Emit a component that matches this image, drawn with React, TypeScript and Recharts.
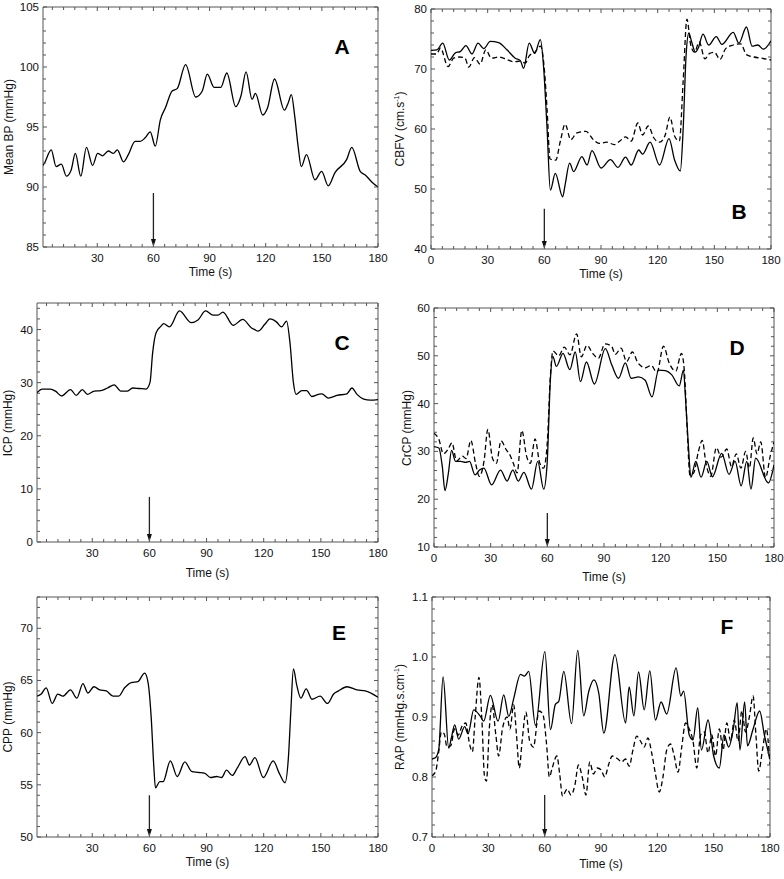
import React from "react";
import { LineChart, Line, XAxis, YAxis, ReferenceArea, ReferenceLine } from "recharts";

const FONT = '"Liberation Sans", Arial, Helvetica, sans-serif';
const FRAME = "#555";
const INK = "#111";

// ---- data (time in s) ----
const aT = [1, 1.8, 5.4, 8, 10.8, 13.5, 16, 18.3, 21.2, 24.2,
  27.5, 30.2, 32.8, 35.9, 38.6, 40.7, 44, 46.6, 50.2, 52.9,
  55.6, 58.3, 61, 63.7, 66.4, 70, 72.7, 77.2, 82.6, 86.1,
  88.8, 92.4, 96, 99.2, 104, 106.8, 109.5, 112.7, 114.5, 118.4,
  121, 124.7, 130, 132, 133.7, 135.5, 137.3, 139, 141.8, 146.3,
  149.9, 153.4, 157, 163.3, 166, 170.5, 173.2, 176.8, 180];
const aMeanBP = [91.8, 92.0, 93.1, 91.7, 91.9, 90.9, 91.4, 92.8, 90.9, 93.3,
  91.8, 92.8, 92.6, 93.0, 92.8, 93.1, 92.1, 92.7, 93.8, 93.8,
  94.1, 94.6, 93.4, 95.6, 96.6, 98.0, 98.2, 100.2, 97.5, 98.0,
  99.4, 98.3, 98.3, 99.5, 96.7, 97.6, 99.6, 97.3, 97.8, 96.0,
  96.6, 99.0, 96.4, 97.0, 97.7, 95.9, 93.4, 91.7, 92.7, 90.6,
  91.3, 90.1, 91.2, 92.3, 93.3, 91.3, 91.0, 90.4, 90.0];

const bSolidT = [0, 3.2, 6.2, 9.7, 12.9, 15.5, 18.5, 21.7, 24.9, 27.9,
  31.4, 35.8, 40.2, 44.6, 47.3, 49, 52, 54.9, 57.9, 59.6,
  61.4, 63.2, 65.8, 69.7, 71, 73.4, 75.5, 79.9, 82.6, 85.2,
  90, 95, 99, 103, 106, 110, 112, 116, 121, 126,
  129, 132, 133.5, 135, 136.5, 138, 140, 141.5, 144, 147,
  151, 154, 160, 163, 167, 170, 173, 176, 180];
const bSolidV = [73.1, 73.2, 74.3, 71.5, 72.7, 72.9, 73.9, 72.5, 74.3, 73.4,
  74.6, 74.4, 73.2, 71.8, 71.4, 70.1, 74.3, 72.6, 74.9, 70.4,
  60.4, 49.8, 52.6, 48.7, 50.7, 54.3, 52.9, 55.4, 54.0, 56.4,
  53.5, 54.9, 53.6, 55.3, 54.0, 56.5, 55.8, 57.8, 54.0, 58.4,
  54.8, 53.0, 60, 72, 76, 74.5, 72.8, 73.5, 75.8, 74.0,
  75.4, 74.1, 76.1, 74.3, 77.0, 73.8, 74.0, 73.3, 74.7];
const bDashT = [0, 3, 5, 9, 12, 15, 18, 20, 23, 26,
  29, 32, 36, 40, 44, 47, 50, 52, 55, 58,
  60, 61.5, 63, 66, 68.5, 71, 74, 77, 82, 86,
  89, 93, 97, 100, 103, 106, 109.5, 112, 115, 118,
  121, 124, 126.5, 129, 131.5, 133.5, 135.5, 137.5, 139.5, 142,
  145, 147.5, 150, 153, 156, 160, 164, 167, 171, 175,
  180];
const bDashV = [72.5, 72.5, 73.5, 70.4, 71.8, 72.0, 71.8, 70.3, 71.9, 70.8,
  73.2, 71.8, 72.0, 71.6, 71.2, 71.3, 71.0, 72.2, 72.8, 73.8,
  70, 63, 55, 54.8, 58, 60.8, 58.2, 59.3, 59.6, 58.2,
  57.6, 57.8, 57.4, 58.0, 58.7, 58.0, 61.0, 59.0, 60.5, 58.5,
  57.8, 59.0, 62.0, 58.8, 58.0, 68, 78.3, 74.0, 72.8, 74.5,
  71.7, 72.6, 72.8, 71.6, 73.4, 74.0, 74.2, 72.4, 72.0, 71.8,
  71.5];

const cT = [1, 3.7, 8, 10.7, 13.9, 18.6, 21.6, 24.8, 27.4, 31,
  34.5, 38, 41.5, 45, 48.5, 51.2, 54.7, 58.2, 60.3, 61.7,
  63.5, 66, 67.5, 70.5, 75.8, 82, 85.5, 89.5, 93.4, 96,
  98.6, 104, 109, 113.6, 115.3, 117, 120.6, 123.3, 126.8, 129.4,
  132, 133.8, 135.6, 137, 140, 142.6, 145.2, 148.8, 150.5, 154,
  158.4, 163.7, 166.3, 169, 172.5, 176, 180];
const cICP = [28.1, 28.8, 28.8, 28.4, 27.5, 28.7, 27.6, 28.7, 27.8, 28.4,
  28.5, 29.0, 29.6, 28.4, 28.4, 29.0, 28.9, 28.8, 30, 35.6,
  39.4, 40.6, 41.1, 40.5, 43.5, 41.3, 41.8, 43.5, 42.7, 42.7,
  43.3, 40.8, 41.9, 40.3, 40.0, 39.7, 41.0, 42.0, 41.4, 40.5,
  41.6, 37.5, 30, 27.8, 28.5, 28.5, 27.4, 27.8, 27.9, 27.1,
  27.6, 27.9, 29.0, 27.8, 26.9, 26.7, 26.8];

const dSolidT = [0, 2.6, 4.4, 5.8, 7.6, 9.3, 11.4, 14.1, 16.7, 18.8,
  21.7, 24.1, 26.4, 30.5, 35.2, 38.7, 41.7, 44.6, 47.6, 51.6,
  54.9, 58.1, 59.9, 61.6, 62.9, 64.8, 68.3, 71.9, 74.8, 77.5,
  80.7, 84.9, 90.7, 94.2, 97.7, 101.3, 104.4, 108.3, 111.8, 115.4,
  118.9, 122.4, 125.9, 129.8, 132.1, 133, 134.7, 136, 138.6, 141.4,
  144.4, 147.4, 152.3, 156.2, 159.4, 162.6, 165.6, 167.8, 170.3, 177,
  180];
const dSolidV = [31.0, 30.7, 26.8, 21.8, 25.4, 30.2, 27.9, 27.9, 27.7, 27.9,
  25.1, 26.1, 26.5, 23.0, 26.1, 23.8, 26.1, 23.8, 25.6, 22.1,
  27.9, 22.1, 27.5, 44.9, 49.9, 47.8, 50.5, 47.1, 50.8, 44.6,
  48.7, 44.1, 51.5, 48.0, 45.3, 48.5, 45.3, 45.6, 44.9, 41.4,
  47.0, 46.9, 46.0, 43.7, 47.0, 42.1, 31, 24.6, 27.9, 24.6,
  27.9, 24.7, 29.6, 25.2, 27.9, 22.8, 27.9, 22.1, 28.6, 23.4,
  27.2];
const dDashT = [0, 2.5, 5, 7.5, 9.5, 12, 15, 17, 19.5, 22,
  24, 26.5, 28.5, 31, 33, 35.5, 38, 40.5, 42, 44,
  46.5, 49, 51, 53.5, 56, 58, 60, 61.5, 63, 66,
  69, 72, 75.5, 78, 81, 84, 87, 90.5, 94, 96,
  99, 102, 105, 108, 112, 115, 118, 121.5, 124.5, 128,
  131, 132.5, 134, 135.5, 137.5, 140, 142, 144, 146.5, 149.5,
  152, 155, 157.5, 160, 162.5, 165, 167, 169, 171, 173,
  175.5, 178, 180];
const dDashV = [33.8, 32.6, 29.5, 30.5, 31.8, 28.0, 29.0, 28.5, 32.3, 27.5,
  24.8, 28, 34.6, 28.5, 27.5, 32.2, 30.5, 29.0, 27.5, 25.5,
  34.4, 29.0, 27.5, 32.6, 27.5, 26.5, 32, 45, 51.0, 50.0,
  51.8, 50.2, 54.6, 49.8, 52.2, 50.5, 49.5, 52.5, 52.0, 50.3,
  51.6, 48.8, 50.8, 48.5, 47.5, 48.0, 46.5, 52.0, 48.5, 46.8,
  50.5, 47, 35, 25.0, 25.5, 30.0, 32.3, 27.5, 24.8, 30.8,
  28.8, 30.5, 26.8, 29.5, 26.5, 30.0, 26.5, 32.8, 29.5, 32.0,
  24.5, 29.0, 32.0];

const eT = [1, 3.2, 5.8, 9, 11.9, 14.6, 18.6, 21.9, 25.1, 27.7,
  30.9, 33.9, 37.4, 40.9, 43.9, 47, 50.5, 54, 57.5, 59.3,
  61, 62.3, 63.2, 65.4, 67.2, 71, 74.6, 78.6, 82.1, 85.6,
  89.1, 92.1, 95.3, 97.9, 100.5, 103.5, 106.1, 110.2, 112.5, 115.4,
  119.8, 125, 128.2, 131.2, 133, 134.2, 135.6, 137.4, 139.5, 142.3,
  145.3, 149.6, 153.5, 156.7, 159.3, 163.7, 169, 173.3, 180];
const eCPP = [63.5, 63.7, 64.3, 62.8, 63.7, 63.5, 64.1, 63.3, 64.7, 63.8,
  64.4, 64.1, 64.0, 63.5, 63.5, 64.3, 64.8, 64.9, 65.7, 64.8,
  61.3, 56.8, 54.7, 55.3, 55.3, 57.3, 55.8, 57.2, 56.3, 56.2,
  56.1, 55.7, 55.8, 55.7, 56.4, 55.9, 56.6, 57.7, 56.9, 57.6,
  55.7, 57.3, 56.1, 55.2, 57.7, 61.9, 66.1, 64.5, 63.3, 64.2,
  63.2, 63.5, 62.8, 63.7, 64.0, 64.4, 64.1, 64.0, 63.4];

const fSolidT = [0, 1.8, 3.6, 5.9, 8.9, 10.3, 12.1, 14.2, 17.4, 19.2,
  22.2, 25.8, 27.5, 31.1, 35.2, 38.2, 40.9, 43.6, 47.1, 49.2,
  51.5, 55.1, 60.1, 63.1, 65.7, 67.5, 70.2, 74.3, 77.6, 80.8,
  83.5, 86.2, 88.8, 91.5, 97.4, 103.1, 105, 107.5, 110, 113,
  116, 119, 122, 125, 130, 132.5, 134, 137, 139, 141.5,
  143.5, 147, 150, 153, 155.5, 158, 160.5, 162.5, 164, 166.5,
  168, 171, 174.5, 177, 180];
const fSolidV = [0.830, 0.832, 0.846, 0.967, 0.848, 0.865, 0.887, 0.863, 0.884, 0.872,
  0.912, 0.901, 0.893, 0.936, 0.893, 0.937, 0.901, 0.932, 0.971, 0.968,
  0.976, 0.886, 1.009, 0.879, 0.921, 0.926, 0.976, 0.889, 1.011, 0.902,
  0.943, 0.962, 0.940, 0.873, 1.004, 0.890, 0.950, 0.902, 0.975, 0.912,
  0.977, 0.895, 0.925, 0.905, 0.982, 0.935, 0.943, 0.870, 0.862, 0.915,
  0.845, 0.895, 0.835, 0.815, 0.870, 0.850, 0.880, 0.924, 0.845, 0.925,
  0.852, 0.880, 0.910, 0.870, 0.830];
const fDashT = [0, 2, 3.5, 5, 6.5, 8, 10, 12, 14, 16,
  18, 20, 21.5, 23, 25, 26.5, 28, 29, 30.5, 32,
  34, 35.5, 37.5, 40, 41.5, 43.5, 45, 46.5, 48, 50,
  52, 54, 57, 59, 61, 62.5, 64, 66.5, 68, 69.5,
  72, 74, 76, 78, 80, 82, 84, 86, 88, 90,
  92, 94, 96, 99, 101, 103, 105, 107, 109, 111,
  113, 115, 117, 119, 121, 123, 125, 127, 129, 131,
  133, 135, 137, 139, 141, 143, 145, 147, 149, 151,
  153, 155, 157, 159, 161, 163, 165, 167, 169, 171,
  172.5, 174, 176, 178, 180];
const fDashV = [0.802, 0.810, 0.840, 0.875, 0.872, 0.850, 0.852, 0.880, 0.870, 0.885,
  0.890, 0.855, 0.842, 0.900, 0.966, 0.900, 0.800, 0.793, 0.880, 0.920,
  0.870, 0.835, 0.880, 0.900, 0.880, 0.920, 0.870, 0.815, 0.860, 0.908,
  0.860, 0.850, 0.910, 0.905, 0.855, 0.800, 0.815, 0.835, 0.805, 0.768,
  0.780, 0.770, 0.785, 0.820, 0.800, 0.770, 0.825, 0.805, 0.815, 0.812,
  0.800, 0.820, 0.835, 0.830, 0.825, 0.830, 0.818, 0.845, 0.868, 0.860,
  0.850, 0.865, 0.840, 0.805, 0.775, 0.800, 0.845, 0.855, 0.835, 0.808,
  0.850, 0.890, 0.880, 0.860, 0.815, 0.870, 0.875, 0.840, 0.870, 0.835,
  0.880, 0.845, 0.890, 0.860, 0.895, 0.860, 0.910, 0.875, 0.900, 0.935,
  0.870, 0.810, 0.845, 0.880, 0.820];

// ---- ticks ----
const timeTicksNoZero = [30, 60, 90, 120, 150, 180];
const timeTicks = [0, 30, 60, 90, 120, 150, 180];
const aYTicks = [85, 90, 95, 100, 105];
const bYTicks = [40, 50, 60, 70, 80];
const cYTicks = [0, 10, 20, 30, 40];
const dYTicks = [10, 20, 30, 40, 50, 60];
const eYTicks = [50, 55, 60, 65, 70];
const fYTicks = [0.7, 0.8, 0.9, 1.0, 1.1];
const STIM_TIME = 60;

// chart box around each plot area: left = margin + y-axis width, bottom = x-axis height + margin
const ML = 10, YW = 40, MR = 10, MT = 10, XH = 30, MB = 10;

function steps(lo: number, hi: number, step: number) {
  const out: number[] = [];
  const n = Math.round((hi - lo) / step);
  for (let i = 0; i <= n; i++) out.push(+(lo + i * step).toFixed(4));
  return out;
}

function rows(t: number[], v: number[]) {
  return t.map((x, i) => ({ t: x, v: v[i] }));
}

type Series = { t: number[]; v: number[]; dashed?: boolean };

type PanelProps = {
  left: number; top: number; width: number; height: number;
  xDomain: [number, number]; yDomain: [number, number];
  xMajor: number[]; yMajor: number[]; yMinorStep: number; yDigits: number;
  series: Series[]; arrowFrom: number;
  letter: string; letterPos: [number, number];
  yLabel: React.ReactNode; yLabelX: number; timeY: number;
};

function Panel(p: PanelProps) {
  const isMajor = (list: number[], v: number) => list.some((m) => Math.abs(m - v) < 1e-6);
  const xAll = steps(0, 180, 6).filter((v) => v >= p.xDomain[0] - 1e-6 && v <= p.xDomain[1] + 1e-6);
  const yAll = steps(p.yDomain[0], p.yDomain[1], p.yMinorStep).filter((v) => v <= p.yDomain[1] + 1e-6);
  const W = p.width, H = p.height;

  const xTick = (props: any) => {
    const { x, y, payload } = props;
    const major = isMajor(p.xMajor, payload.value);
    const len = major ? 4 : 3;
    return (
      <g>
        <line x1={x} x2={x} y1={y} y2={y - len} stroke={FRAME} />
        <line x1={x} x2={x} y1={y - H} y2={y - H + len} stroke={FRAME} />
        {major && (
          <text x={x} y={y + 15} textAnchor="middle" fontSize={11.5} fill={INK} fontFamily={FONT}>
            {payload.value}
          </text>
        )}
      </g>
    );
  };

  const yTick = (props: any) => {
    const { x, y, payload } = props;
    const major = isMajor(p.yMajor, payload.value);
    const len = major ? 4 : 3;
    return (
      <g>
        <line x1={x} x2={x + len} y1={y} y2={y} stroke={FRAME} />
        <line x1={x + W} x2={x + W - len} y1={y} y2={y} stroke={FRAME} />
        {major && (
          <text x={x - 4} y={y + 4} textAnchor="end" fontSize={11.5} fill={INK} fontFamily={FONT}>
            {payload.value.toFixed(p.yDigits)}
          </text>
        )}
      </g>
    );
  };

  const arrow = (props: any) => {
    const { x1, y1, y2 } = props;
    const tip = Math.max(y1, y2);
    const tail = Math.min(y1, y2);
    return (
      <g>
        <line x1={x1} x2={x1} y1={tail} y2={tip - 6} stroke="#222" strokeWidth={1.3} />
        <polygon points={`${x1 - 2.5},${tip - 8} ${x1 + 2.5},${tip - 8} ${x1},${tip}`} fill="#111" />
      </g>
    );
  };

  return (
    <>
      <div style={{ position: "absolute", left: p.left - ML - YW, top: p.top - MT }}>
        <LineChart width={W + ML + YW + MR} height={H + MT + XH + MB}
          margin={{ top: MT, right: MR, bottom: MB, left: ML }}>
          <XAxis dataKey="t" type="number" domain={p.xDomain} allowDataOverflow ticks={xAll} interval={0}
            height={XH} tickSize={0} tickMargin={0} axisLine={false} tickLine={false} tick={xTick} />
          <YAxis type="number" domain={p.yDomain} allowDataOverflow ticks={yAll} interval={0}
            width={YW} tickSize={0} tickMargin={0} axisLine={false} tickLine={false} tick={yTick} />
          <ReferenceArea x1={p.xDomain[0]} x2={p.xDomain[1]} y1={p.yDomain[0]} y2={p.yDomain[1]}
            fill="none" fillOpacity={0} stroke={FRAME} strokeWidth={1} />
          {p.series.map((s, i) => (
            <Line key={i} data={rows(s.t, s.v)} dataKey="v" type="monotone" stroke="#000"
              strokeWidth={1.3} dot={false} isAnimationActive={false}
              strokeDasharray={s.dashed ? "5 3" : undefined} />
          ))}
          <ReferenceLine segment={[{ x: STIM_TIME, y: p.arrowFrom }, { x: STIM_TIME, y: p.yDomain[0] }]} shape={arrow} />
        </LineChart>
      </div>
      <div style={{ position: "absolute", left: p.letterPos[0], top: p.letterPos[1], transform: "translate(-50%,-50%)",
        fontFamily: FONT, fontWeight: "bold", fontSize: 21, color: "#000" }}>{p.letter}</div>
      <div style={{ position: "absolute", left: p.yLabelX, top: p.top + H / 2, transform: "translate(-50%,-50%) rotate(-90deg)",
        fontFamily: FONT, fontSize: 12, color: INK, whiteSpace: "nowrap" }}>{p.yLabel}</div>
      <div style={{ position: "absolute", left: p.left + W / 2, top: p.timeY, transform: "translate(-50%,-50%)",
        fontFamily: FONT, fontSize: 12, color: INK, whiteSpace: "nowrap" }}>Time (s)</div>
    </>
  );
}

const supStyle: React.CSSProperties = { fontSize: 7, verticalAlign: "super" };

export default function App() {
  return (
    <div style={{ position: "relative", width: 784, height: 879, background: "#fff", overflow: "hidden" }}>
      <style>{"body{margin:0}"}</style>
      <Panel left={43} top={7} width={335} height={240} xDomain={[1, 180]} yDomain={[85, 105]}
        xMajor={timeTicksNoZero} yMajor={aYTicks} yMinorStep={1} yDigits={0}
        series={[{ t: aT, v: aMeanBP }]} arrowFrom={89.5}
        letter="A" letterPos={[342, 47]} yLabel="Mean BP (mmHg)" yLabelX={9} timeY={272} />
      <Panel left={431} top={9} width={340} height={240} xDomain={[0, 180]} yDomain={[40, 80]}
        xMajor={timeTicks} yMajor={bYTicks} yMinorStep={2} yDigits={0}
        series={[{ t: bSolidT, v: bSolidV }, { t: bDashT, v: bDashV, dashed: true }]} arrowFrom={46.7}
        letter="B" letterPos={[739, 212]}
        yLabel={<span>CBFV (cm.s<span style={supStyle}>-1</span>)</span>} yLabelX={400} timeY={274} />
      <Panel left={37} top={303} width={341} height={239} xDomain={[1, 180]} yDomain={[0, 45]}
        xMajor={timeTicksNoZero} yMajor={cYTicks} yMinorStep={2} yDigits={0}
        series={[{ t: cT, v: cICP }]} arrowFrom={8.5}
        letter="C" letterPos={[342, 343]} yLabel="ICP (mmHg)" yLabelX={8} timeY={573} />
      <Panel left={434} top={308} width={340} height={239} xDomain={[0, 180]} yDomain={[10, 60]}
        xMajor={timeTicks} yMajor={dYTicks} yMinorStep={2} yDigits={0}
        series={[{ t: dSolidT, v: dSolidV }, { t: dDashT, v: dDashV, dashed: true }]} arrowFrom={17.1}
        letter="D" letterPos={[737, 348]} yLabel="CrCP (mmHg)" yLabelX={407} timeY={577} />
      <Panel left={37} top={597} width={341} height={240} xDomain={[1, 180]} yDomain={[50, 73]}
        xMajor={timeTicksNoZero} yMajor={eYTicks} yMinorStep={1} yDigits={0}
        series={[{ t: eT, v: eCPP }]} arrowFrom={54}
        letter="E" letterPos={[339, 633]} yLabel="CPP (mmHg)" yLabelX={8} timeY={862} />
      <Panel left={432} top={597} width={338} height={240} xDomain={[0, 180]} yDomain={[0.7, 1.1]}
        xMajor={timeTicks} yMajor={fYTicks} yMinorStep={0.02} yDigits={1}
        series={[{ t: fSolidT, v: fSolidV }, { t: fDashT, v: fDashV, dashed: true }]} arrowFrom={0.77}
        letter="F" letterPos={[727, 627]}
        yLabel={<span>RAP (mmHg.s.cm<span style={supStyle}>-1</span>)</span>} yLabelX={400} timeY={864} />
    </div>
  );
}
